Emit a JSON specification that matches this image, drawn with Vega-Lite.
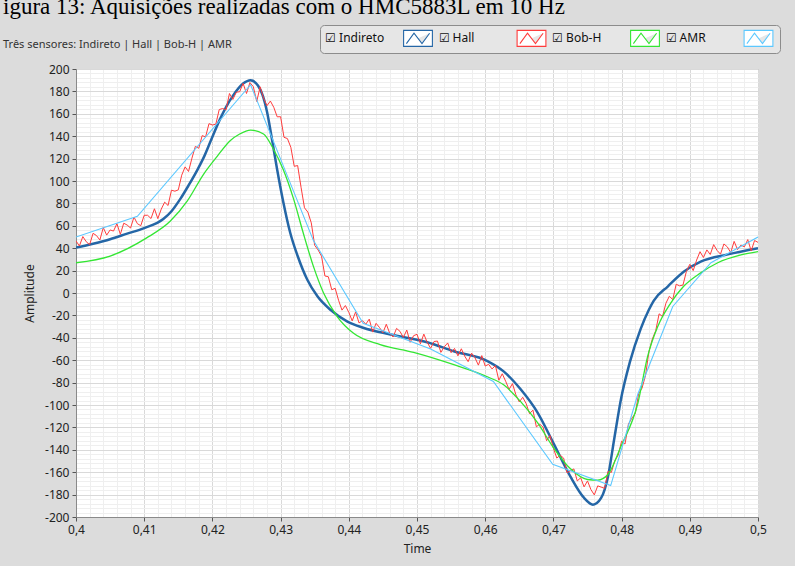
{
  "$schema": "https://vega.github.io/schema/vega-lite/v6.json",
  "width": 682,
  "height": 448,
  "autosize": {"type": "none"},
  "padding": {"left": 76, "top": 69, "right": 37, "bottom": 49},
  "background": "#dcdcdc",
  "title": {
    "text": "igura 13: Aquisições realizadas com o HMC5883L em 10 Hz",
    "subtitle": "Três sensores: Indireto | Hall | Bob-H | AMR",
    "anchor": "start",
    "frame": "group",
    "dx": -73,
    "dy": 42,
    "offset": 17,
    "font": "Liberation Serif",
    "fontSize": 23,
    "fontWeight": "normal",
    "color": "#000000",
    "subtitleFont": "Noto Sans",
    "subtitleFontSize": 11,
    "subtitleColor": "#333333",
    "subtitlePadding": 20
  },
  "config": {
    "view": {"stroke": "#9a9a9a", "fill": "#ffffff"},
    "axis": {
      "labelFont": "Noto Sans",
      "labelFontSize": 12,
      "labelColor": "#222222",
      "titleFont": "Noto Sans",
      "titleFontSize": 12,
      "titleFontWeight": "normal",
      "titleColor": "#222222",
      "tickColor": "#555555",
      "tickSize": 4,
      "domainColor": "#8a8a8a",
      "gridColor": "#d9d9d9",
      "labelFlush": false
    }
  },
  "datasets": {
    "indireto": [
      {"t":0.4,"v":40.5},{"t":0.4025,"v":44},{"t":0.405,"v":48},{"t":0.4075,"v":53},{"t":0.41,"v":58},
      {"t":0.4128,"v":66},{"t":0.414,"v":73},{"t":0.4153,"v":84},{"t":0.4165,"v":96},{"t":0.4178,"v":110},
      {"t":0.4188,"v":122},{"t":0.4197,"v":135},{"t":0.4211,"v":155},{"t":0.422,"v":166},{"t":0.423,"v":176},
      {"t":0.4245,"v":187},{"t":0.4256,"v":190},{"t":0.4267,"v":185},{"t":0.4274,"v":176},{"t":0.428,"v":162},
      {"t":0.4288,"v":135},{"t":0.4295,"v":110},{"t":0.4304,"v":81},{"t":0.4314,"v":54},{"t":0.4325,"v":33},
      {"t":0.4339,"v":12},{"t":0.4354,"v":-3},{"t":0.4373,"v":-15},{"t":0.4398,"v":-25.5},{"t":0.4421,"v":-31},
      {"t":0.4461,"v":-37},{"t":0.4515,"v":-44},{"t":0.4554,"v":-52},{"t":0.4604,"v":-61},{"t":0.4627,"v":-70},
      {"t":0.4652,"v":-86},{"t":0.4677,"v":-107},{"t":0.47,"v":-134},{"t":0.4725,"v":-164},{"t":0.4745,"v":-183},
      {"t":0.4758,"v":-189},{"t":0.477,"v":-183},{"t":0.478,"v":-164},{"t":0.4789,"v":-131},{"t":0.4799,"v":-95},
      {"t":0.4812,"v":-62},{"t":0.4828,"v":-32},{"t":0.484,"v":-15},{"t":0.4847,"v":-7},{"t":0.4868,"v":6},
      {"t":0.4891,"v":19},{"t":0.4916,"v":28},{"t":0.4956,"v":34.5},{"t":0.5,"v":40}
    ],
    "bobh": [
      {"t":0.4,"v":27},{"t":0.405,"v":33},{"t":0.4103,"v":49},{"t":0.4138,"v":64},{"t":0.4163,"v":82},
      {"t":0.4187,"v":106},{"t":0.4207,"v":122},{"t":0.4226,"v":136},{"t":0.424,"v":142},{"t":0.4256,"v":145.5},
      {"t":0.4275,"v":142},{"t":0.4289,"v":129},{"t":0.4304,"v":110},{"t":0.4319,"v":84},{"t":0.4333,"v":54},
      {"t":0.4348,"v":24},{"t":0.4363,"v":0},{"t":0.4383,"v":-21},{"t":0.4407,"v":-36},{"t":0.4446,"v":-46},
      {"t":0.4495,"v":-53},{"t":0.4554,"v":-64},{"t":0.4604,"v":-75},{"t":0.4627,"v":-82},{"t":0.4652,"v":-97},
      {"t":0.4677,"v":-116},{"t":0.47,"v":-138},{"t":0.4725,"v":-157},{"t":0.475,"v":-166.5},{"t":0.4765,"v":-167},
      {"t":0.478,"v":-162},{"t":0.4799,"v":-137},{"t":0.4824,"v":-98},{"t":0.4838,"v":-57},{"t":0.4853,"v":-30},
      {"t":0.4872,"v":-9},{"t":0.4891,"v":6},{"t":0.4916,"v":18},{"t":0.4941,"v":27},{"t":0.4975,"v":34},
      {"t":0.5,"v":37}
    ],
    "amr": [
      {"t":0.4,"v":50},{"t":0.409,"v":68.5},{"t":0.4256,"v":186},{"t":0.4348,"v":47},{"t":0.4421,"v":-27},
      {"t":0.452,"v":-50},{"t":0.4612,"v":-79},{"t":0.4699,"v":-153},{"t":0.4784,"v":-172},{"t":0.4824,"v":-90},
      {"t":0.4875,"v":-12},{"t":0.4931,"v":27},{"t":0.5,"v":50}
    ],
    "hall": [
      {"t":0.4,"v":46.5},{"t":0.4005,"v":42},{"t":0.401,"v":50.4},{"t":0.4015,"v":45.8},{"t":0.402,"v":43.1},
      {"t":0.4025,"v":53.3},{"t":0.403,"v":51.3},{"t":0.4035,"v":47.3},{"t":0.404,"v":58.4},{"t":0.4045,"v":51.7},
      {"t":0.405,"v":56.3},{"t":0.4055,"v":55.3},{"t":0.406,"v":61.9},{"t":0.4065,"v":52.4},{"t":0.407,"v":62.3},
      {"t":0.4075,"v":60.7},{"t":0.408,"v":58},{"t":0.4085,"v":67.8},{"t":0.409,"v":61.9},{"t":0.4095,"v":60.1},
      {"t":0.41,"v":69.4},{"t":0.4105,"v":69.4},{"t":0.411,"v":66.5},{"t":0.4115,"v":75.2},{"t":0.412,"v":66.4},
      {"t":0.4125,"v":74.9},{"t":0.413,"v":81.1},{"t":0.4135,"v":78.1},{"t":0.414,"v":91.8},{"t":0.4145,"v":90.9},
      {"t":0.415,"v":92.1},{"t":0.4155,"v":105.2},{"t":0.416,"v":112.6},{"t":0.4165,"v":108.5},{"t":0.417,"v":120.4},
      {"t":0.4175,"v":130.9},{"t":0.418,"v":129.2},{"t":0.4185,"v":140.5},{"t":0.419,"v":139.4},{"t":0.4195,"v":151.2},
      {"t":0.42,"v":150},{"t":0.4205,"v":150.7},{"t":0.421,"v":163.8},{"t":0.4215,"v":164.7},{"t":0.422,"v":163.6},
      {"t":0.4225,"v":178.1},{"t":0.423,"v":172.8},{"t":0.4235,"v":179.3},{"t":0.424,"v":179.7},{"t":0.4245,"v":187.2},
      {"t":0.425,"v":178.1},{"t":0.4255,"v":187.9},{"t":0.426,"v":184.2},{"t":0.4265,"v":171},{"t":0.427,"v":184.1},
      {"t":0.4275,"v":174.1},{"t":0.428,"v":167.2},{"t":0.4285,"v":171.4},{"t":0.429,"v":165.8},{"t":0.4295,"v":157.3},
      {"t":0.43,"v":157.4},{"t":0.4305,"v":139},{"t":0.431,"v":137.9},{"t":0.4315,"v":130.1},{"t":0.432,"v":113.1},
      {"t":0.4325,"v":113.8},{"t":0.433,"v":94.4},{"t":0.4335,"v":76.1},{"t":0.434,"v":72.2},{"t":0.4345,"v":62.6},
      {"t":0.435,"v":42.5},{"t":0.4355,"v":38.4},{"t":0.436,"v":32.9},{"t":0.4365,"v":15.2},{"t":0.437,"v":14.5},
      {"t":0.4375,"v":2.9},{"t":0.438,"v":4.2},{"t":0.4385,"v":-6.5},{"t":0.439,"v":-15.3},{"t":0.4395,"v":-11.2},
      {"t":0.44,"v":-17.3},{"t":0.4405,"v":-24.9},{"t":0.441,"v":-16.9},{"t":0.4415,"v":-26.7},{"t":0.442,"v":-24.7},
      {"t":0.4425,"v":-27.8},{"t":0.443,"v":-23.3},{"t":0.4435,"v":-34.9},{"t":0.444,"v":-27.1},{"t":0.4445,"v":-30.8},
      {"t":0.445,"v":-35.6},{"t":0.4455,"v":-27.9},{"t":0.446,"v":-35.9},{"t":0.4465,"v":-39.3},{"t":0.447,"v":-31.6},
      {"t":0.4475,"v":-34.2},{"t":0.448,"v":-39.7},{"t":0.4485,"v":-33.1},{"t":0.449,"v":-44},{"t":0.4495,"v":-38.1},
      {"t":0.45,"v":-36.9},{"t":0.4505,"v":-45.4},{"t":0.451,"v":-36.7},{"t":0.4515,"v":-44.1},{"t":0.452,"v":-49.4},
      {"t":0.4525,"v":-43.3},{"t":0.453,"v":-42.9},{"t":0.4535,"v":-53},{"t":0.454,"v":-48.1},{"t":0.4545,"v":-44.6},
      {"t":0.455,"v":-53.3},{"t":0.4555,"v":-49.5},{"t":0.456,"v":-56.1},{"t":0.4565,"v":-49.8},{"t":0.457,"v":-56.5},
      {"t":0.4575,"v":-61.3},{"t":0.458,"v":-53.7},{"t":0.4585,"v":-57.8},{"t":0.459,"v":-64.4},{"t":0.4595,"v":-55.9},
      {"t":0.46,"v":-65.2},{"t":0.4605,"v":-63.7},{"t":0.461,"v":-67.8},{"t":0.4615,"v":-64.8},{"t":0.462,"v":-77.9},
      {"t":0.4625,"v":-72.1},{"t":0.463,"v":-78.8},{"t":0.4635,"v":-86.1},{"t":0.464,"v":-80.9},{"t":0.4645,"v":-90.9},
      {"t":0.465,"v":-97.3},{"t":0.4655,"v":-93.1},{"t":0.466,"v":-98.7},{"t":0.4665,"v":-107.7},{"t":0.467,"v":-104.6},
      {"t":0.4675,"v":-119.5},{"t":0.468,"v":-117.1},{"t":0.4685,"v":-119.9},{"t":0.469,"v":-131.9},{"t":0.4695,"v":-127.2},
      {"t":0.47,"v":-138.6},{"t":0.4705,"v":-147.4},{"t":0.471,"v":-144.8},{"t":0.4715,"v":-147.4},{"t":0.472,"v":-160.5},
      {"t":0.4725,"v":-158.6},{"t":0.473,"v":-157.1},{"t":0.4735,"v":-167.8},{"t":0.474,"v":-165},{"t":0.4745,"v":-173.1},
      {"t":0.475,"v":-167.8},{"t":0.4755,"v":-175.5},{"t":0.476,"v":-180.3},{"t":0.4765,"v":-172.2},{"t":0.477,"v":-173.3},
      {"t":0.4775,"v":-174.4},{"t":0.478,"v":-159.4},{"t":0.4785,"v":-160.2},{"t":0.479,"v":-149.7},{"t":0.4795,"v":-144.8},
      {"t":0.48,"v":-132.3},{"t":0.4805,"v":-134.9},{"t":0.481,"v":-117.1},{"t":0.4815,"v":-111.8},{"t":0.482,"v":-107.6},
      {"t":0.4825,"v":-89.9},{"t":0.483,"v":-84.9},{"t":0.4835,"v":-73.8},{"t":0.484,"v":-52.6},{"t":0.4845,"v":-41.2},
      {"t":0.485,"v":-33.7},{"t":0.4855,"v":-18.6},{"t":0.486,"v":-21},{"t":0.4865,"v":-9.1},{"t":0.487,"v":-2.9},
      {"t":0.4875,"v":-5.9},{"t":0.488,"v":7.8},{"t":0.4885,"v":6.4},{"t":0.489,"v":7.1},{"t":0.4895,"v":19.2},
      {"t":0.49,"v":25.6},{"t":0.4905,"v":20},{"t":0.491,"v":29.4},{"t":0.4915,"v":36.9},{"t":0.492,"v":31.7},
      {"t":0.4925,"v":38.5},{"t":0.493,"v":34.4},{"t":0.4935,"v":43.2},{"t":0.494,"v":38},{"t":0.4945,"v":34.7},
      {"t":0.495,"v":43.8},{"t":0.4955,"v":41.2},{"t":0.496,"v":36.1},{"t":0.4965,"v":46.1},{"t":0.497,"v":38.8},
      {"t":0.4975,"v":42.8},{"t":0.498,"v":41.2},{"t":0.4985,"v":47.7},{"t":0.499,"v":37.6},{"t":0.4995,"v":46.9},
      {"t":0.5,"v":45.2}
    ]
  },
  "resolve": {"axis": {"x": "independent", "y": "independent"}},
  "layer": [
    {
      "data": {"name": "amr"},
      "mark": {"type": "line", "opacity": 0},
      "encoding": {
        "x": {"field": "t", "type": "quantitative", "scale": {"domain": [0.4, 0.5], "nice": false, "zero": false},
          "axis": {"orient": "bottom", "values": [0.402,0.404,0.406,0.408,0.412,0.414,0.416,0.418,0.422,0.424,0.426,0.428,0.432,0.434,0.436,0.438,0.442,0.444,0.446,0.448,0.452,0.454,0.456,0.458,0.462,0.464,0.466,0.468,0.472,0.474,0.476,0.478,0.482,0.484,0.486,0.488,0.492,0.494,0.496,0.498],
            "grid": true, "gridColor": "#efefef", "labels": false, "ticks": false, "domain": false, "title": null}},
        "y": {"field": "v", "type": "quantitative", "scale": {"domain": [-200, 200], "nice": false, "zero": false},
          "axis": {"orient": "left", "values": [-196,-192,-188,-184,-176,-172,-168,-164,-156,-152,-148,-144,-136,-132,-128,-124,-116,-112,-108,-104,-96,-92,-88,-84,-76,-72,-68,-64,-56,-52,-48,-44,-36,-32,-28,-24,-16,-12,-8,-4,4,8,12,16,24,28,32,36,44,48,52,56,64,68,72,76,84,88,92,96,104,108,112,116,124,128,132,136,144,148,152,156,164,168,172,176,184,188,192,196],
            "grid": true, "gridColor": "#efefef", "labels": false, "ticks": false, "domain": false, "title": null}}
      }
    },
    {
      "data": {"name": "indireto"},
      "mark": {"type": "line", "strokeWidth": 2.5, "interpolate": "monotone", "clip": true},
      "encoding": {
        "x": {"field": "t", "type": "quantitative",
          "axis": {"orient": "bottom", "values": [0.4,0.41,0.42,0.43,0.44,0.45,0.46,0.47,0.48,0.49,0.5], "grid": true,
            "labelExpr": "replace(format(datum.value, '.2~f'), '.', ',')", "title": "Time", "titlePadding": 8, "labelPadding": 3}},
        "y": {"field": "v", "type": "quantitative",
          "axis": {"orient": "left", "values": [-200,-180,-160,-140,-120,-100,-80,-60,-40,-20,0,20,40,60,80,100,120,140,160,180,200], "grid": true,
            "labelExpr": "'' + datum.value", "title": "Amplitude", "titlePadding": 8, "labelPadding": 3}},
        "color": {"datum": "Indireto",
          "scale": {"domain": ["Indireto", "Hall", "Bob-H", "AMR"], "range": ["#2466a6", "#ff3c3c", "#33e633", "#5cc8ff"]},
          "legend": {
            "orient": "none", "legendX": 244, "legendY": -44, "direction": "horizontal", "title": null,
            "fillColor": "#e6e6e6", "strokeColor": "#8c8c8c", "cornerRadius": 4, "padding": 4,
            "symbolType": "M-1.8,-1H1.8V1H-1.8Z M-1.45,0.65L-0.5,-0.65L0.5,0.65L1.45,-0.65", "symbolSize": 256, "symbolStrokeWidth": 1.1,
            "symbolFillColor": "#ffffff", "symbolOffset": 85,
            "labelFont": "Noto Sans", "labelFontSize": 12, "labelColor": "#111111",
            "labelExpr": "'☑ ' + datum.label", "labelAlign": "left", "labelOffset": -102,
            "columnPadding": 2.5, "gridAlign": "all"
          }
        }
      }
    },
    {
      "data": {"name": "hall"},
      "mark": {"type": "line", "strokeWidth": 1, "clip": true},
      "encoding": {
        "x": {"field": "t", "type": "quantitative", "axis": null},
        "y": {"field": "v", "type": "quantitative", "axis": null},
        "color": {"datum": "Hall"}
      }
    },
    {
      "data": {"name": "bobh"},
      "mark": {"type": "line", "strokeWidth": 1.3, "interpolate": "monotone", "clip": true},
      "encoding": {
        "x": {"field": "t", "type": "quantitative", "axis": null},
        "y": {"field": "v", "type": "quantitative", "axis": null},
        "color": {"datum": "Bob-H"}
      }
    },
    {
      "data": {"name": "amr"},
      "mark": {"type": "line", "strokeWidth": 1.1, "clip": true},
      "encoding": {
        "x": {"field": "t", "type": "quantitative", "axis": null},
        "y": {"field": "v", "type": "quantitative", "axis": null},
        "color": {"datum": "AMR"}
      }
    }
  ]
}
